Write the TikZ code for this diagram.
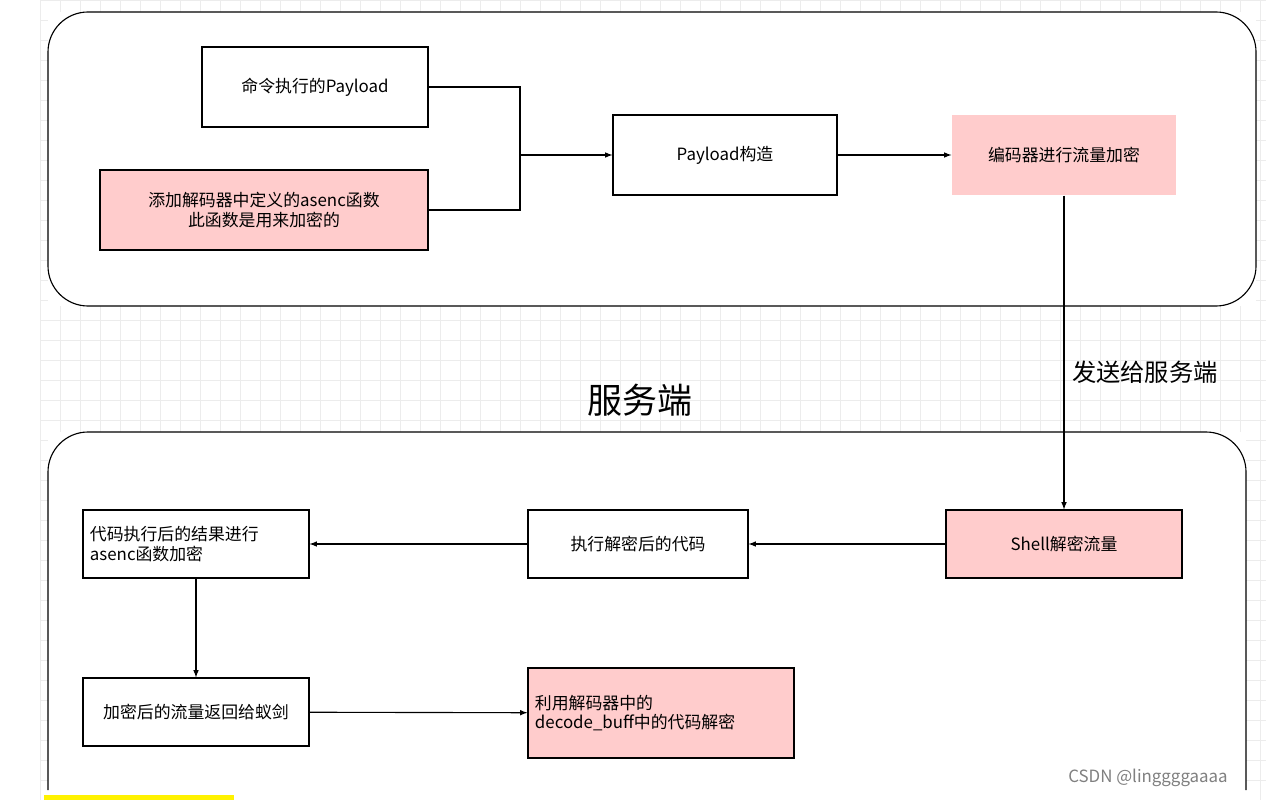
\documentclass[tikz,border=0pt]{standalone}
\usepackage{fontspec}
\setmainfont{Noto Sans CJK SC}
\usetikzlibrary{positioning}
\definecolor{boxpink}{RGB}{255,204,204}
\tikzset{
  box/.style = {draw, thick, minimum width = 5.6cm, minimum height = 2cm, align = center, font = \large},
  pinkbox/.style = {box, fill = boxpink},
  link/.style = {thick, -latex}
}
\begin{document}
\begin{tikzpicture}[x = 0.025cm, y = -0.025cm]
\useasboundingbox (0,0) rectangle (1266,800);
% grid background
\foreach \gx in {40,60,...,1266} \draw[gray!15] (\gx,0) -- (\gx,800);
\foreach \gy in {0,20,...,800} \draw[gray!15] (40,\gy) -- (1266,\gy);
\fill[white] (48,12) rectangle (1256,306);
\fill[white] (48,432) rectangle (1246,800);
% client and server frames
\draw[thick, rounded corners = 1cm] (48,12) rectangle (1256,306);
\draw[thick, rounded corners = 1cm] (48,790) -- (48,432) -- (1246,432) -- (1246,790);

\node[box, minimum width = 5.65cm] (cmd) at (315,87) {命令执行的Payload};
\node[pinkbox, minimum width = 8.2cm] (asenc) at (264,210) {添加解码器中定义的asenc函数\\此函数是用来加密的};
\node[box, minimum width = 5.6cm] (build) at (725,155) {Payload构造};
\node[box, fill = boxpink, draw = none] (enc) at (1064,155) {编码器进行流量加密};
\coordinate (join) at (520,155);

\draw[thick] (cmd.east) -| (join);
\draw[thick] (asenc.east) -| (join);
\draw[link] (join) -- (build);
\draw[link] (build) -- (enc);

\node[font = \Huge] (server) at (640,400) {服务端};

\node[pinkbox, minimum width = 5.9cm, minimum height = 1.7cm] (shell) at (1064,544) {Shell解密流量};
\node[box, minimum width = 5.5cm, minimum height = 1.7cm] (exec) at (638,544) {执行解密后的代码};
\node[box, minimum width = 5.65cm, minimum height = 1.7cm, align = left, text width = 5.3cm] (result) at (196,544) {代码执行后的结果进行\\asenc函数加密};
\node[box, minimum width = 5.65cm, minimum height = 1.7cm] (back) at (196,712) {加密后的流量返回给蚁剑};
\node[pinkbox, minimum width = 6.65cm, minimum height = 2.25cm, align = left, text width = 6.3cm] (decode) at (661,713) {利用解码器中的\\decode\_buff中的代码解密\\[4pt]};

\draw[link] (enc) -- node[right, font = \LARGE, xshift = 2pt, yshift = -14pt] {发送给服务端} (shell);
\draw[link] (shell) -- (exec);
\draw[link] (exec) -- (result);
\draw[link] (result) -- (back);
\draw[link] (back) -- (decode);

\node[gray, font = \large] (mark) at (1148,778) {CSDN @linggggaaaa};
\fill[yellow] (44,795) rectangle (234,800);
\end{tikzpicture}
\end{document}
